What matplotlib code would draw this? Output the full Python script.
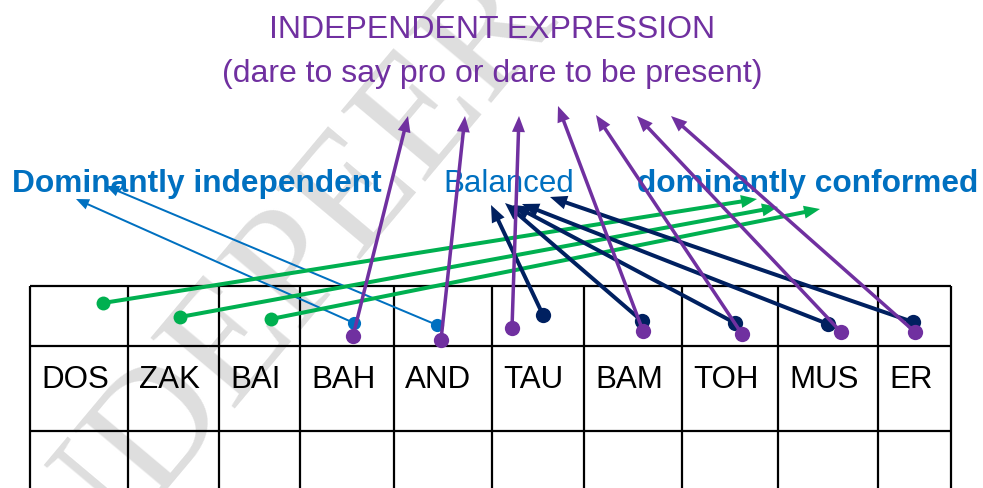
import numpy as np
import matplotlib.pyplot as plt

# table
names = ['DOS', 'ZAK', 'BAI', 'BAH', 'AND', 'TAU', 'BAM', 'TOH', 'MUS', 'ER']
col_edges = [30, 128, 219, 300, 394, 492, 584, 682, 778, 878, 951]
row_edges = [287, 347, 432]

# arrows: (start x, start y) -> (tip x, tip y), pixel coords of the picture
green_from = [(103, 304), (180, 318), (271, 320)]
green_to = [(757, 200), (778, 208), (820, 210)]

blue_from = [(354, 324), (437, 326)]
blue_to = [(76, 200), (106, 187)]

navy_from = [(543, 316), (642, 322), (735, 324), (828, 325), (913, 323)]
navy_to = [(491, 206), (505, 204), (513, 206), (522, 205), (550, 198)]

purple_from = [(353, 337), (441, 341), (512, 329), (643, 332), (742, 335), (841, 333), (915, 333)]
purple_to = [(408, 117), (465, 117), (519, 117), (558, 107), (596, 116), (637, 117), (671, 117)]

PURPLE = '#7030A0'
BLUE = '#0070C0'
NAVY = '#002060'
GREEN = '#00B050'

plt.rcParams['font.family'] = ['Liberation Sans', 'DejaVu Sans']

fig = plt.figure(figsize=(9.83, 4.89), dpi=100)
ax = fig.add_axes([0, 0, 1, 1])
ax.set_xlim(0, 983)
ax.set_ylim(489, 0)
ax.axis('off')

# watermark
ax.text(268, 300, 'INDEPEER', family='Liberation Serif', fontsize=120,
        color='#dedede', rotation=50, ha='center', va='center',
        rotation_mode='anchor', zorder=0)

# table grid
ax.vlines(col_edges, row_edges[0], 489, color='black', lw=1.6, zorder=1)
ax.hlines(row_edges, col_edges[0], col_edges[-1], color='black', lw=1.6, zorder=1)
for i, n in enumerate(names):
    ax.text(col_edges[i] + 11, 388, n, fontsize=22.5, color='black',
            ha='left', va='baseline', zorder=2)

# headings
ax.text(492, 38, 'INDEPENDENT EXPRESSION', fontsize=23, color=PURPLE,
        ha='center', va='baseline')
ax.text(492, 82, '(dare to say pro or dare to be present)', fontsize=23,
        color=PURPLE, ha='center', va='baseline')
ax.text(12, 192, 'Dominantly independent', fontsize=22.8, fontweight='bold',
        color=BLUE, ha='left', va='baseline')
ax.text(443, 192, 'Balanced', fontsize=22.5, color=BLUE, ha='left', va='baseline')
ax.text(978, 192, 'dominantly conformed', fontsize=22.8, fontweight='bold',
        color=BLUE, ha='right', va='baseline')


def draw(starts, tips, color, w, hw, hl, ms, z):
    for (x0, y0), (x1, y1) in zip(starts, tips):
        ax.arrow(x0, y0, x1 - x0, y1 - y0, width=w, head_width=hw, head_length=hl,
                 length_includes_head=True, color=color, lw=0, zorder=z)
        ax.plot(x0, y0, 'o', color=color, ms=ms, mec='none', zorder=z)


draw(blue_from, blue_to, BLUE, 2.0, 11, 13, 9.5, 3)
draw(green_from, green_to, GREEN, 4.0, 13, 16, 10, 4)
draw(navy_from, navy_to, NAVY, 4.0, 14, 17, 11, 5)
draw(purple_from, purple_to, PURPLE, 3.5, 13, 16, 11, 6)

fig.savefig('out.png', dpi=100)
